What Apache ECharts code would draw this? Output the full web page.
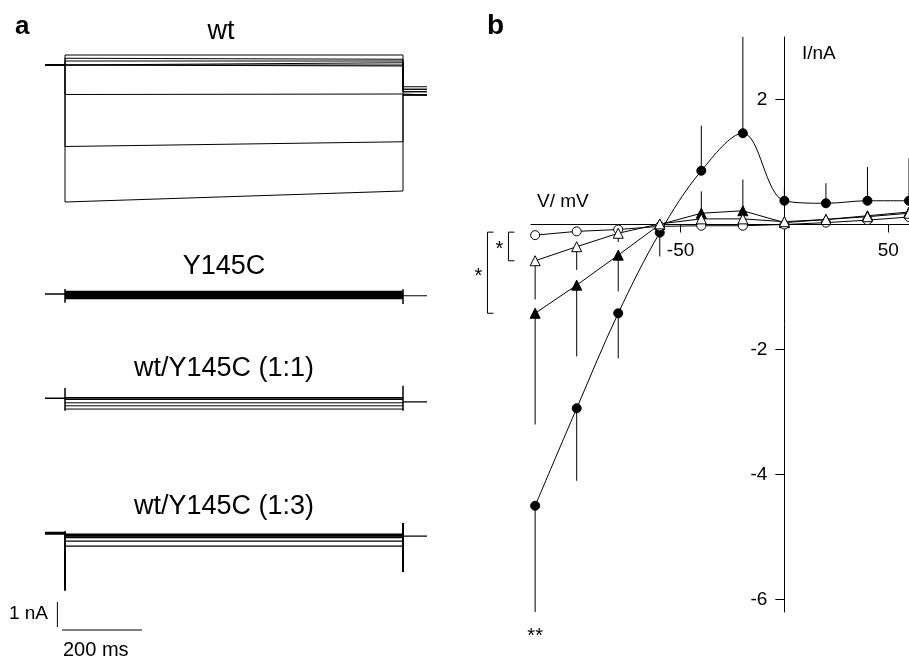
<!DOCTYPE html>
<html><head><meta charset="utf-8">
<script src="https://cdn.jsdelivr.net/npm/echarts@6/dist/echarts.min.js"></script>
<style>html,body{margin:0;padding:0;background:#fff}#c{width:909px;height:659px}</style>
</head><body><div id="c"></div>
<script>
// ---------- Panel a: current traces (nA) vs time (ms) ----------
const T_HOLD = -50, T_ON = 0, T_OFF = 845, T_END = 905;
// wt family: current early in pulse, at end of pulse, tail current
const wtStart = [-5.48, -3.26, -1.18, -0.04, 0, 0.06, 0.16, 0.27, 0.40];
const wtEnd   = [-5.04, -3.07, -1.16, -0.04, 0, 0.09, 0.16, 0.23, 0.40];
const wtTail  = [-1.2, -1.2, -1.2, -1.2, -1.07, -1.07, -0.97, -0.97, -0.87];
// Y145C family
const y145Levels = [0.1, 0.06, 0.02, -0.02, -0.06, -0.1, -0.14, -0.18];
const y145Tail = -0.07;
const y145OnSpike = [0.2, -0.35];
const y145OffSpike = [0.19, -0.4];
// wt/Y145C (1:1)
const m11Levels = [0.02, -0.04, -0.18, -0.30, -0.43];
const m11Tail = -0.14;
const m11OnSpike = [0.41, -0.5];
const m11OffSpike = [0.5, -0.5];
// wt/Y145C (1:3)
const m13Levels = [-0.04, -0.10, -0.16, -0.31, -0.51];
const m13Tail = -0.11;
const m13OnSpike = [0.08, -2.3];
const m13OffSpike = [0.41, -1.55];
// scale bar
const scaleNA = 1, scaleMs = 200;

// ---------- Panel b: I/V relation ----------
const voltages = [-120, -100, -80, -60, -40, -20, 0, 20, 40, 60];
const iWt    = [-4.5, -2.94, -1.42, -0.13, 0.86, 1.46, 0.38, 0.34, 0.38, 0.38];
const eWt    = [1.7, 1.16, 0.72, 0.38, 0.72, 1.54, 0.2, 0.32, 0.54, 0.68];
const iMix11 = [-1.42, -0.97, -0.49, 0.0, 0.18, 0.22, 0.03, 0.08, 0.14, 0.2];
const eMix11 = [1.78, 1.14, 0.58, 0.03, 0.35, 0.5, 0.03, 0.03, 0.03, 0.03];
const iMix13 = [-0.58, -0.355, -0.14, 0.01, 0.09, 0.09, 0.045, 0.08, 0.125, 0.18];
const eMix13 = [0.62, 0.37, 0.14, 0.02, 0.05, 0.05, 0.02, 0.02, 0.02, 0.02];
const iY145C = [-0.17, -0.11, -0.08, -0.03, -0.02, -0.02, 0.0, 0.03, 0.07, 0.12];
const eY145C = [0.03, 0.03, 0.03, 0.02, 0.05, 0.05, 0.02, 0.02, 0.02, 0.02];
const yTicks = [2, -2, -4, -6];
const xTicks = [-50, 50];

const FONT = '"Liberation Sans", Arial, Helvetica, sans-serif';
const BLACK = '#000';

function stepTrace(a, b, tail) {
  return [[T_HOLD, 0], [T_ON, 0], [T_ON, a], [T_OFF, b], [T_OFF, tail], [T_END, tail]];
}
function pulseTrace(a, b) {
  return [[T_ON, a], [T_OFF, b]];
}
function lineS(grid, data, width) {
  return { type: 'line', xAxisIndex: grid, yAxisIndex: grid, data: data, symbol: 'none',
    lineStyle: { color: BLACK, width: width || 1, join: 'bevel', cap: 'butt' }, silent: true, z: 2 };
}
function spikeS(grid, t, vals, width) {
  return lineS(grid, [[t, vals[0]], [t, vals[1]]], width);
}
function family(grid, levels, tail, onSpike, offSpike, widths, spikeW) {
  levels.forEach((l, i) => series.push(lineS(grid, pulseTrace(l, l), widths[i])));
  series.push(lineS(grid, [[T_HOLD, 0], [T_ON, 0]], 1.5));
  series.push(lineS(grid, [[T_OFF, tail], [T_END, tail]], 1.2));
  series.push(spikeS(grid, T_ON, onSpike, spikeW), spikeS(grid, T_OFF, offSpike, spikeW));
}

const series = [];
// wt
wtStart.forEach((s, i) => series.push(lineS(0, stepTrace(s, wtEnd[i], wtTail[i]), 1)));
series.push(lineS(0, [[T_HOLD, 0], [T_ON, 0]], 2));
// Y145C
family(1, y145Levels, y145Tail, y145OnSpike, y145OffSpike, y145Levels.map(() => 1.3), 1.5);
// 1:1
family(2, m11Levels, m11Tail, m11OnSpike, m11OffSpike, [1.6, 1.6, 1, 1, 1], 1.5);
// 1:3
family(3, m13Levels, m13Tail, m13OnSpike, m13OffSpike, [1.8, 1.8, 1.8, 1.3, 1.3], 2);
series.push(lineS(3, [[T_HOLD, 0], [T_ON, 0]], 3));
// scale bar (grid 4)
series.push(lineS(4, [[-19, 0], [-19, -scaleNA]], 1));
series.push(lineS(4, [[-7.5, -1.12], [-7.5 + scaleMs, -1.12]], 1));

// panel b error bars
function errRender(params, api) {
  const x = api.value(0), y = api.value(1), e = api.value(2);
  const s = y < 0 ? -1 : 1;
  const p0 = api.coord([x, y]), p1 = api.coord([x, y + s * e]);
  return { type: 'line', shape: { x1: p0[0], y1: p0[1], x2: p1[0], y2: p1[1] },
    style: { stroke: BLACK, lineWidth: 1 } };
}
[[iWt, eWt], [iMix11, eMix11], [iY145C, eY145C], [iMix13, eMix13]].forEach(pair => {
  series.push({ type: 'custom', xAxisIndex: 5, yAxisIndex: 5, renderItem: errRender, z: 1, silent: true,
    clip: true, data: voltages.map((v, i) => [v, pair[0][i], pair[1][i]]) });
});
function ivSeries(vals, symbol, filled, size, smooth) {
  return { type: 'line', xAxisIndex: 5, yAxisIndex: 5, data: voltages.map((v, i) => [v, vals[i]]),
    symbol: symbol, symbolSize: size, showSymbol: true, smooth: smooth || false, z: 3, silent: true,
    lineStyle: { color: BLACK, width: 1 },
    itemStyle: { color: filled ? BLACK : '#fff', borderColor: BLACK, borderWidth: 1 } };
}
series.push(ivSeries(iWt, 'circle', true, 9, 0.35));
series.push(ivSeries(iMix11, 'triangle', true, 10));
series.push(ivSeries(iY145C, 'circle', false, 9));
series.push(ivSeries(iMix13, 'triangle', false, 10));

// significance brackets
const brackets = [
  { lo: iY145C[0], hi: iMix13[0], off: -26.7, label: '*' },
  { lo: iY145C[0], hi: iMix11[0], off: -47.7, label: '*' }
];
series.push({ type: 'custom', xAxisIndex: 5, yAxisIndex: 5, silent: true, clip: false, z: 4,
  data: brackets.map(b => [voltages[0], b.lo, b.hi]),
  renderItem: function (params, api) {
    const b = brackets[params.dataIndex];
    const p1 = api.coord([api.value(0), api.value(1)]);
    const p2 = api.coord([api.value(0), api.value(2)]);
    const bx = p1[0] + b.off;
    const st = { stroke: BLACK, lineWidth: 1 };
    return { type: 'group', children: [
      { type: 'line', shape: { x1: bx, y1: p1[1] - 3, x2: bx, y2: p2[1] }, style: st },
      { type: 'line', shape: { x1: bx, y1: p1[1] - 3, x2: bx + 6, y2: p1[1] - 3 }, style: st },
      { type: 'line', shape: { x1: bx, y1: p2[1], x2: bx + 6, y2: p2[1] }, style: st },
      { type: 'text', style: { text: b.label, x: bx - 9, y: (p1[1] + p2[1]) / 2 + 2, align: 'center',
        verticalAlign: 'middle', fontSize: 20, fontFamily: FONT, fill: BLACK } }
    ] };
  } });
// ** under wt at -120
series.push({ type: 'custom', xAxisIndex: 5, yAxisIndex: 5, silent: true, clip: false, z: 4,
  data: [[voltages[0], iWt[0] - eWt[0]]],
  renderItem: function (params, api) {
    const p = api.coord([api.value(0), api.value(1)]);
    return { type: 'text', style: { text: '**', x: p[0], y: p[1] + 24, align: 'center',
      verticalAlign: 'middle', fontSize: 20, fontFamily: FONT, fill: BLACK } };
  } });

const hiddenX = (g) => ({ gridIndex: g, type: 'value', min: T_HOLD, max: T_END, show: false });
const hiddenY = (g, mn, mx) => ({ gridIndex: g, type: 'value', min: mn, max: mx, show: false });

// panel b geometry: grid spans V -122..60 and I -6.2..3; axes cross at 0
const B_LEFT = 531, B_TOP = 37, B_W = 378, B_H = 575;
const V_MIN = -122, V_MAX = 60, I_MIN = -6.2, I_MAX = 3;
const xAxisOffset = -B_H * (0 - I_MIN) / (I_MAX - I_MIN);   // move x axis up to I = 0
const yAxisOffset = -B_W * (0 - V_MIN) / (V_MAX - V_MIN);   // move y axis right to V = 0

const option = {
  animation: false,
  backgroundColor: '#fff',
  textStyle: { fontFamily: FONT },
  grid: [
    { left: 45, top: 45, width: 382, height: 170 },
    { left: 45, top: 269, width: 382, height: 50 },
    { left: 45, top: 373.3, width: 382, height: 50 },
    { left: 45, top: 508.3, width: 382, height: 100 },
    { left: 45, top: 602, width: 382, height: 50 },
    { left: B_LEFT, top: B_TOP, width: B_W, height: B_H }
  ],
  xAxis: [hiddenX(0), hiddenX(1), hiddenX(2), hiddenX(3), hiddenX(4),
    { gridIndex: 5, type: 'value', min: V_MIN, max: V_MAX, position: 'bottom', offset: xAxisOffset,
      axisLine: { onZero: false, lineStyle: { color: BLACK, width: 1 } },
      axisTick: { customValues: xTicks, length: 8, lineStyle: { color: BLACK } },
      axisLabel: { customValues: xTicks, fontSize: 19, color: BLACK, margin: 17, fontFamily: FONT },
      splitLine: { show: false } }],
  yAxis: [hiddenY(0, -6, 0.8), hiddenY(1, -1, 1), hiddenY(2, -1, 1), hiddenY(3, -3, 1), hiddenY(4, -2, 0),
    { gridIndex: 5, type: 'value', min: I_MIN, max: I_MAX, position: 'left', offset: yAxisOffset,
      axisLine: { onZero: false, lineStyle: { color: BLACK, width: 1 } },
      axisTick: { customValues: yTicks, length: 9, lineStyle: { color: BLACK } },
      axisLabel: { customValues: yTicks, fontSize: 19, color: BLACK, margin: 17, fontFamily: FONT },
      splitLine: { show: false } }],
  graphic: [
    { type: 'text', style: { text: 'a', x: 15, y: 27, verticalAlign: 'middle', fontSize: 26, fontWeight: 'bold', fontFamily: FONT, fill: BLACK } },
    { type: 'text', style: { text: 'b', x: 487, y: 26, verticalAlign: 'middle', fontSize: 28, fontWeight: 'bold', fontFamily: FONT, fill: BLACK } },
    { type: 'text', style: { text: 'wt', x: 221, y: 32, align: 'center', verticalAlign: 'middle', fontSize: 27, fontFamily: FONT, fill: BLACK } },
    { type: 'text', style: { text: 'Y145C', x: 224, y: 267, align: 'center', verticalAlign: 'middle', fontSize: 27, fontFamily: FONT, fill: BLACK } },
    { type: 'text', style: { text: 'wt/Y145C (1:1)', x: 224, y: 369, align: 'center', verticalAlign: 'middle', fontSize: 27, fontFamily: FONT, fill: BLACK } },
    { type: 'text', style: { text: 'wt/Y145C (1:3)', x: 224, y: 507, align: 'center', verticalAlign: 'middle', fontSize: 27, fontFamily: FONT, fill: BLACK } },
    { type: 'text', style: { text: '1 nA', x: 48, y: 614, align: 'right', verticalAlign: 'middle', fontSize: 19, fontFamily: FONT, fill: BLACK } },
    { type: 'text', style: { text: '200 ms', x: 63, y: 650, verticalAlign: 'middle', fontSize: 20, fontFamily: FONT, fill: BLACK } },
    { type: 'text', style: { text: 'V/ mV', x: 537, y: 202, verticalAlign: 'middle', fontSize: 19, fontFamily: FONT, fill: BLACK } },
    { type: 'text', style: { text: 'I/nA', x: 802, y: 54, verticalAlign: 'middle', fontSize: 19, fontFamily: FONT, fill: BLACK } }
  ],
  series: series
};
const chart = echarts.init(document.getElementById('c'), null, { renderer: 'canvas' });
chart.setOption(option);
</script></body></html>
